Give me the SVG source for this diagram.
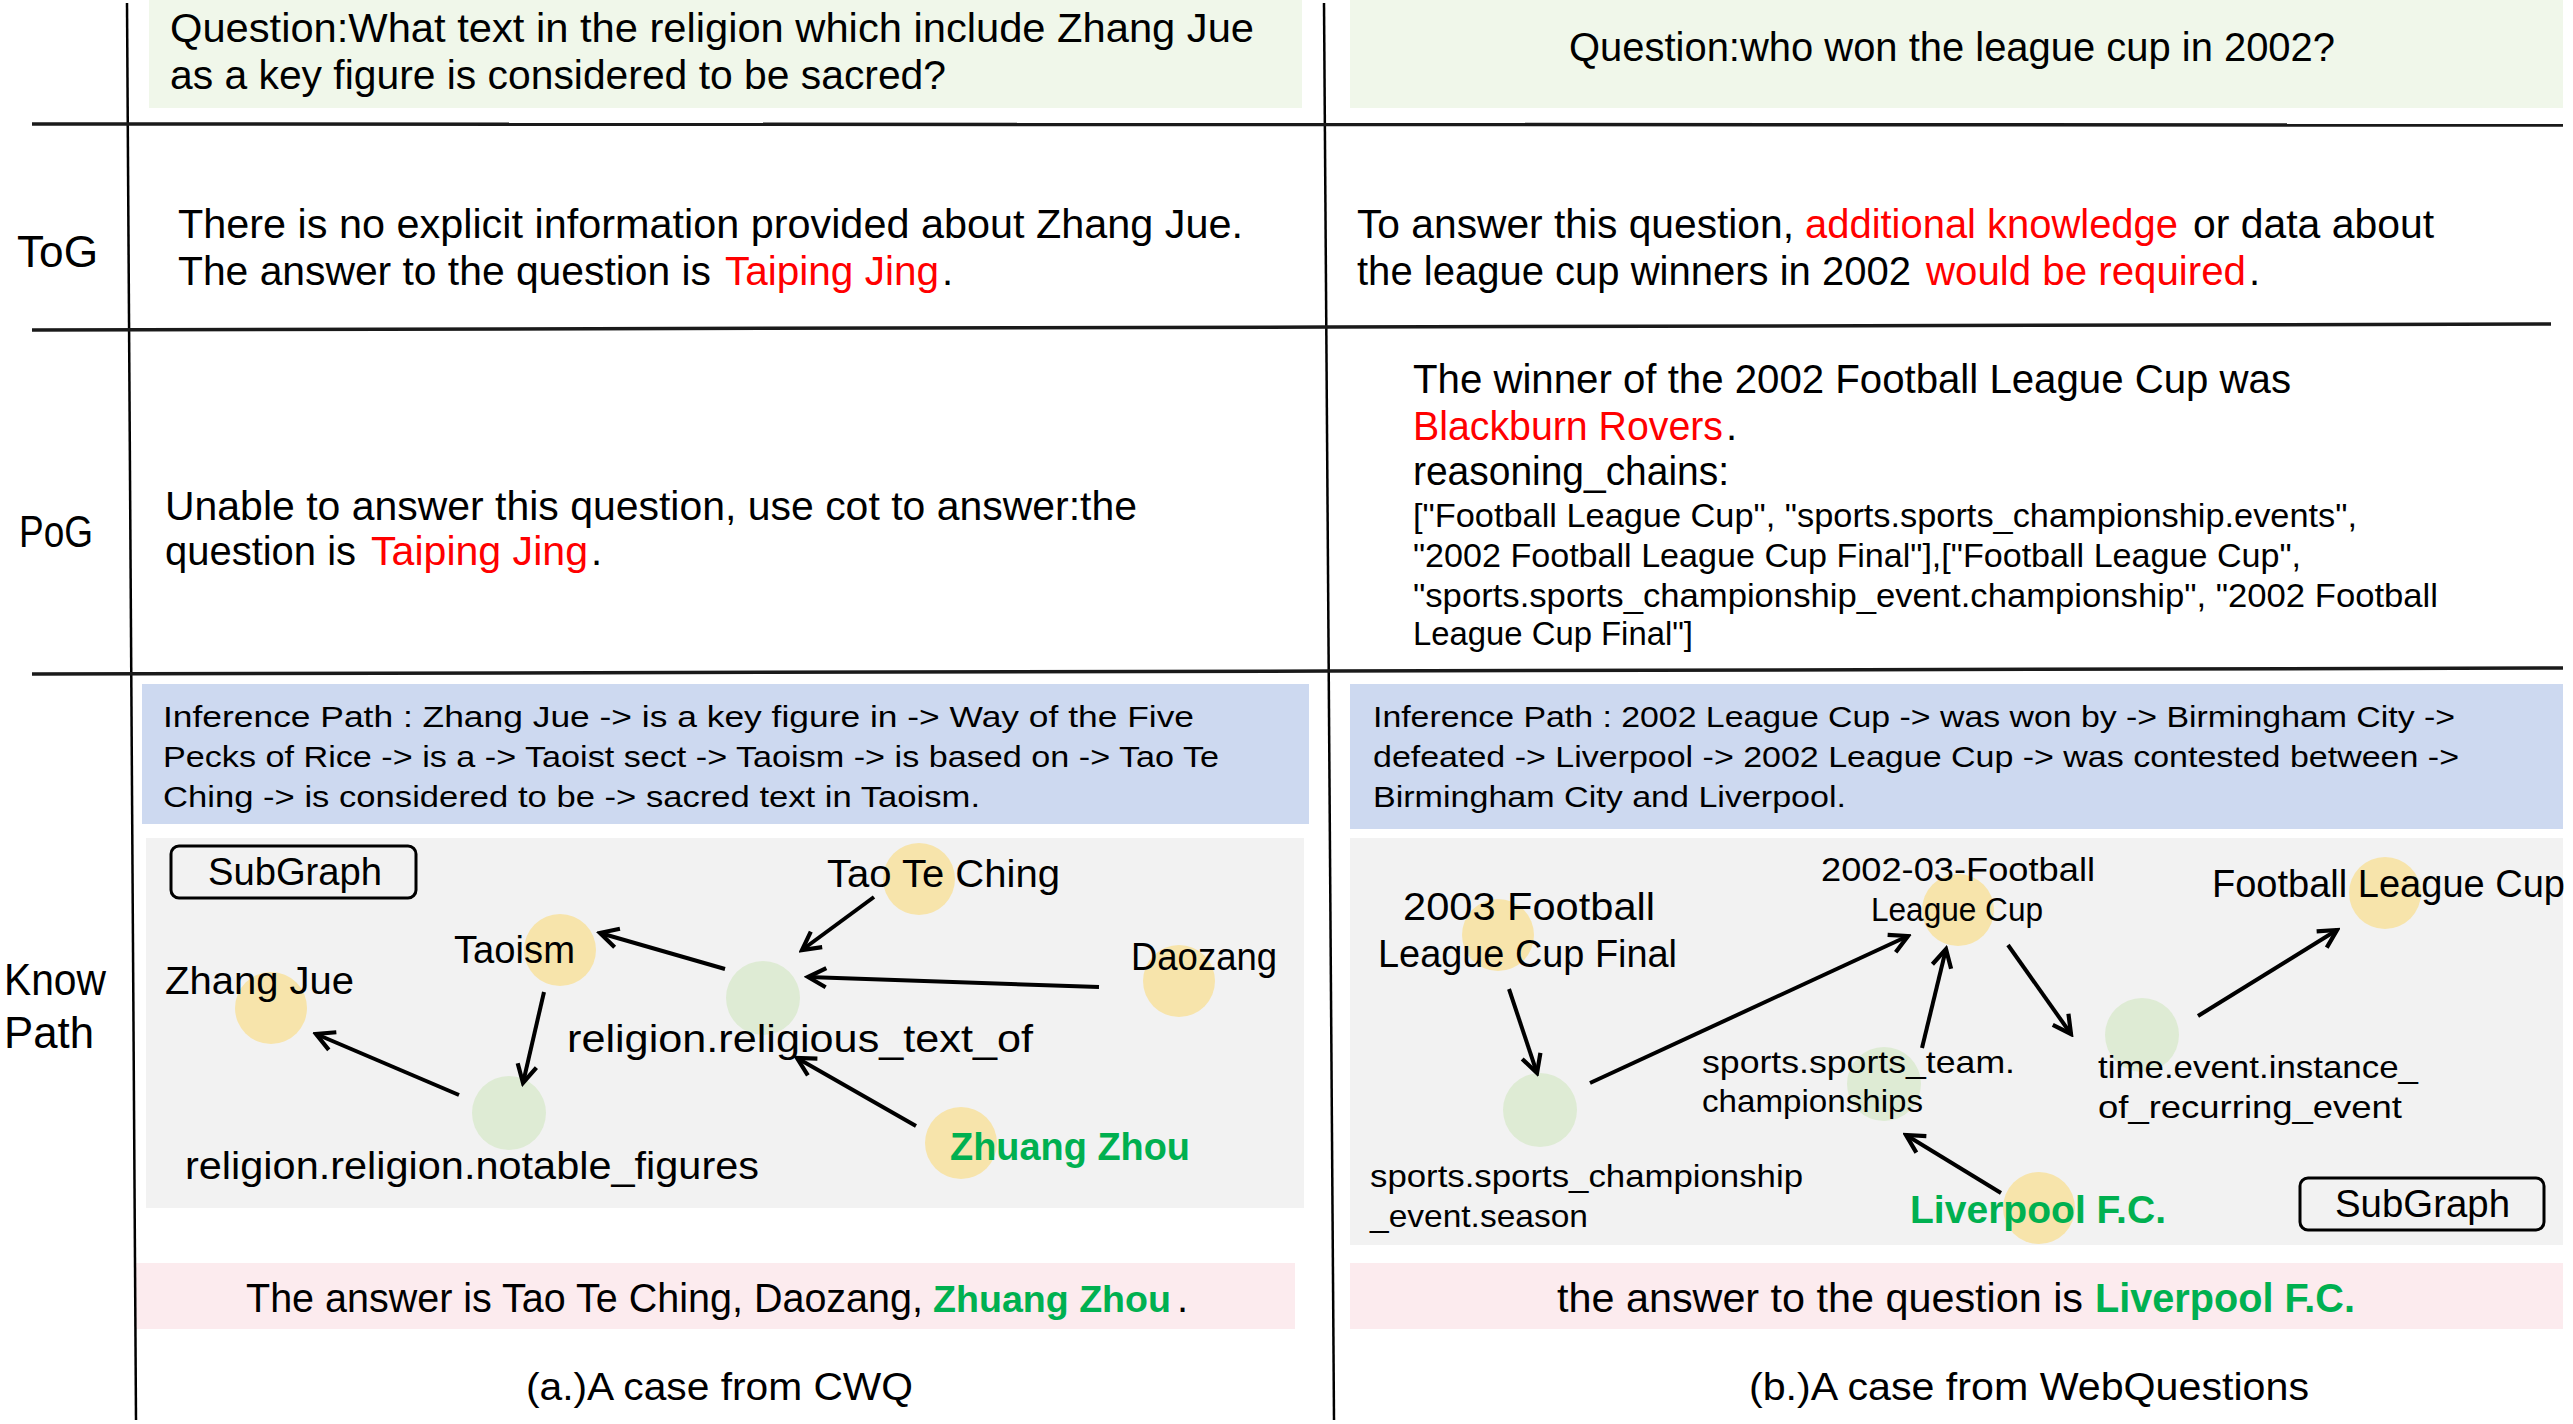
<svg xmlns="http://www.w3.org/2000/svg" width="2573" height="1424" viewBox="0 0 2573 1424">
<style>
text{font-family:"Liberation Sans",Arial,sans-serif;fill:#000}
.t40{font-size:40px}
.t34{font-size:34px}
.t32{font-size:32px}
.t31{font-size:30px}
.t38{font-size:38px}
.t44{font-size:44px}
.red{fill:#FF0000}
.grn{fill:#00B050;font-weight:bold}
.sep{stroke:#1a1a1a;stroke-width:3.5;fill:none}
.vl{stroke:#000;stroke-width:2.5;fill:none}
.ent{fill:#F7E4AB}
.rel{fill:#DEEBD4}
.arr{stroke:#000;stroke-width:4;fill:none;marker-end:url(#ah)}
.btn{fill:none;stroke:#000;stroke-width:3}
</style>
<defs>
<marker id="ah" viewBox="0 0 20 20" refX="17" refY="10" markerWidth="24" markerHeight="24" markerUnits="userSpaceOnUse" orient="auto">
<path d="M2,2 L17,10 L2,18" fill="none" stroke="#000" stroke-width="3.5"/>
</marker>
</defs>
<rect x="0" y="0" width="2573" height="1424" fill="#fff"/>

<!-- backgrounds -->
<rect x="149" y="0" width="1153" height="108" fill="#F0F7EA"/>
<rect x="1350" y="0" width="1213" height="108" fill="#F0F7EA"/>
<rect x="142" y="684" width="1167" height="140" fill="#CDD9F0"/>
<rect x="1350" y="684" width="1213" height="145" fill="#CDD9F0"/>
<rect x="146" y="838" width="1158" height="370" fill="#F2F2F2"/>
<rect x="1350" y="838" width="1213" height="407" fill="#F2F2F2"/>
<rect x="136" y="1263" width="1159" height="66" fill="#FCEBEE"/>
<rect x="1350" y="1263" width="1213" height="66" fill="#FCEBEE"/>

<!-- table lines -->
<g id="grid">
<line class="vl" x1="127" y1="3" x2="136" y2="1420"/>
<line class="vl" x1="1324" y1="3" x2="1334" y2="1420"/>
<line class="sep" x1="32" y1="124" x2="2563" y2="125"/>
<line class="sep" x1="32" y1="330" x2="1330" y2="327"/>
<line class="sep" x1="1330" y1="327" x2="2551" y2="324"/>
<line class="sep" x1="32" y1="674" x2="1330" y2="671"/>
<line class="sep" x1="1330" y1="671" x2="2563" y2="668"/>
</g>

<!-- row labels -->
<text class="t44" x="17" y="267" textLength="81" lengthAdjust="spacingAndGlyphs">ToG</text>
<text class="t44" x="19" y="547" textLength="74" lengthAdjust="spacingAndGlyphs">PoG</text>
<text class="t44" x="4" y="995" textLength="102" lengthAdjust="spacingAndGlyphs">Know</text>
<text class="t44" x="4" y="1048" textLength="90" lengthAdjust="spacingAndGlyphs">Path</text>

<!-- questions -->
<text class="t40" x="170" y="42" textLength="1084" lengthAdjust="spacingAndGlyphs">Question:What text in the religion which include Zhang Jue</text>
<text class="t40" x="170" y="89" textLength="776" lengthAdjust="spacingAndGlyphs">as a key figure is considered to be sacred?</text>
<text class="t40" x="1569" y="61" textLength="766" lengthAdjust="spacingAndGlyphs">Question:who won the league cup in 2002?</text>

<!-- ToG -->
<text class="t40" x="178" y="238" textLength="1065" lengthAdjust="spacingAndGlyphs">There is no explicit information provided about Zhang Jue.</text>
<text class="t40" x="178" y="285" textLength="533" lengthAdjust="spacingAndGlyphs">The answer to the question is</text>
<text class="t40 red" x="725" y="285" textLength="214" lengthAdjust="spacingAndGlyphs">Taiping Jing</text>
<text class="t40" x="942" y="285">.</text>

<text class="t40" x="1357" y="238" textLength="437" lengthAdjust="spacingAndGlyphs">To answer this question,</text>
<text class="t40 red" x="1805" y="238" textLength="373" lengthAdjust="spacingAndGlyphs">additional knowledge</text>
<text class="t40" x="2193" y="238" textLength="241" lengthAdjust="spacingAndGlyphs">or data about</text>
<text class="t40" x="1357" y="285" textLength="554" lengthAdjust="spacingAndGlyphs">the league cup winners in 2002</text>
<text class="t40 red" x="1926" y="285" textLength="320" lengthAdjust="spacingAndGlyphs">would be required</text>
<text class="t40" x="2249" y="285">.</text>

<!-- PoG -->
<text class="t40" x="165" y="520" textLength="972" lengthAdjust="spacingAndGlyphs">Unable to answer this question, use cot to answer:the</text>
<text class="t40" x="165" y="565" textLength="191" lengthAdjust="spacingAndGlyphs">question is</text>
<text class="t40 red" x="371" y="565" textLength="217" lengthAdjust="spacingAndGlyphs">Taiping Jing</text>
<text class="t40" x="591" y="565">.</text>

<text class="t40" x="1413" y="393" textLength="878" lengthAdjust="spacingAndGlyphs">The winner of the 2002 Football League Cup was</text>
<text class="t40 red" x="1413" y="440" textLength="310" lengthAdjust="spacingAndGlyphs">Blackburn Rovers</text>
<text class="t40" x="1726" y="440">.</text>
<text class="t40" x="1413" y="485" textLength="316" lengthAdjust="spacingAndGlyphs">reasoning_chains:</text>
<text class="t34" x="1413" y="527" textLength="944" lengthAdjust="spacingAndGlyphs">["Football League Cup", "sports.sports_championship.events",</text>
<text class="t34" x="1413" y="567" textLength="888" lengthAdjust="spacingAndGlyphs">"2002 Football League Cup Final"],["Football League Cup",</text>
<text class="t34" x="1413" y="607" textLength="1025" lengthAdjust="spacingAndGlyphs">"sports.sports_championship_event.championship", "2002 Football</text>
<text class="t34" x="1413" y="645" textLength="280" lengthAdjust="spacingAndGlyphs">League Cup Final"]</text>

<!-- inference paths -->
<text class="t31" x="163" y="727" textLength="1031" lengthAdjust="spacingAndGlyphs">Inference Path : Zhang Jue -&gt; is a key figure in -&gt; Way of the Five</text>
<text class="t31" x="163" y="767" textLength="1056" lengthAdjust="spacingAndGlyphs">Pecks of Rice -&gt; is a -&gt; Taoist sect -&gt; Taoism -&gt; is based on -&gt; Tao Te</text>
<text class="t31" x="163" y="807" textLength="817" lengthAdjust="spacingAndGlyphs">Ching -&gt; is considered to be -&gt; sacred text in Taoism.</text>
<text class="t31" x="1373" y="727" textLength="1082" lengthAdjust="spacingAndGlyphs">Inference Path : 2002 League Cup -&gt; was won by -&gt; Birmingham City -&gt;</text>
<text class="t31" x="1373" y="767" textLength="1086" lengthAdjust="spacingAndGlyphs">defeated -&gt; Liverpool -&gt; 2002 League Cup -&gt; was contested between -&gt;</text>
<text class="t31" x="1373" y="807" textLength="473" lengthAdjust="spacingAndGlyphs">Birmingham City and Liverpool.</text>

<!-- subgraph buttons -->
<g id="subgraph-a">
<rect class="btn" x="171" y="846" width="245" height="52" rx="8"/>
<text class="t38" x="208" y="885" textLength="174" lengthAdjust="spacingAndGlyphs">SubGraph</text>
</g>
<g id="subgraph-b">
<rect class="btn" x="2300" y="1178" width="244" height="52" rx="8"/>
<text class="t38" x="2335" y="1217" textLength="175" lengthAdjust="spacingAndGlyphs">SubGraph</text>
</g>

<!-- left graph nodes -->
<g id="n-taoteching"><circle class="ent" cx="919" cy="879" r="36"/><text class="t38" x="827" y="887" textLength="233" lengthAdjust="spacingAndGlyphs">Tao Te Ching</text></g>
<g id="n-taoism"><circle class="ent" cx="560" cy="950" r="36"/><text class="t38" x="454" y="963" textLength="121" lengthAdjust="spacingAndGlyphs">Taoism</text></g>
<g id="n-zhangjue"><circle class="ent" cx="271" cy="1008" r="36"/><text class="t38" x="165" y="994" textLength="189" lengthAdjust="spacingAndGlyphs">Zhang Jue</text></g>
<g id="n-religious-text"><circle class="rel" cx="763" cy="998" r="37"/><text class="t38" x="567" y="1052" textLength="466" lengthAdjust="spacingAndGlyphs">religion.religious_text_of</text></g>
<g id="n-daozang"><circle class="ent" cx="1179" cy="981" r="36"/><text class="t38" x="1131" y="970" textLength="146" lengthAdjust="spacingAndGlyphs">Daozang</text></g>
<g id="n-notable"><circle class="rel" cx="509" cy="1113" r="37"/><text class="t38" x="185" y="1179" textLength="574" lengthAdjust="spacingAndGlyphs">religion.religion.notable_figures</text></g>
<g id="n-zhuangzhou"><circle class="ent" cx="961" cy="1143" r="36"/><text class="t38 grn" x="950" y="1160" textLength="240" lengthAdjust="spacingAndGlyphs">Zhuang Zhou</text></g>

<!-- right graph nodes -->
<g id="n-2003final"><circle class="ent" cx="1498" cy="935" r="36"/>
<text class="t38" x="1403" y="920" textLength="252" lengthAdjust="spacingAndGlyphs">2003 Football</text>
<text class="t38" x="1378" y="967" textLength="299" lengthAdjust="spacingAndGlyphs">League Cup Final</text></g>
<g id="n-200203"><circle class="ent" cx="1958" cy="910" r="36"/>
<text class="t34" x="1821" y="881" textLength="274" lengthAdjust="spacingAndGlyphs">2002-03-Football</text>
<text class="t34" x="1871" y="921" textLength="172" lengthAdjust="spacingAndGlyphs">League Cup</text></g>
<g id="n-flc"><circle class="ent" cx="2385" cy="893" r="36"/>
<text class="t38" x="2212" y="897" textLength="353" lengthAdjust="spacingAndGlyphs">Football League Cup</text></g>
<g id="n-season"><circle class="rel" cx="1540" cy="1110" r="37"/>
<text class="t32" x="1370" y="1187" textLength="433" lengthAdjust="spacingAndGlyphs">sports.sports_championship</text>
<text class="t32" x="1370" y="1227" textLength="218" lengthAdjust="spacingAndGlyphs">_event.season</text></g>
<g id="n-teamchamp"><circle class="rel" cx="1884" cy="1084" r="37"/>
<text class="t32" x="1702" y="1073" textLength="313" lengthAdjust="spacingAndGlyphs">sports.sports_team.</text>
<text class="t32" x="1702" y="1112" textLength="221" lengthAdjust="spacingAndGlyphs">championships</text></g>
<g id="n-timeevent"><circle class="rel" cx="2142" cy="1035" r="37"/>
<text class="t32" x="2098" y="1078" textLength="320" lengthAdjust="spacingAndGlyphs">time.event.instance_</text>
<text class="t32" x="2098" y="1118" textLength="304" lengthAdjust="spacingAndGlyphs">of_recurring_event</text></g>
<g id="n-liverpool"><circle class="ent" cx="2039" cy="1208" r="36"/>
<text class="t38 grn" x="1910" y="1223" textLength="256" lengthAdjust="spacingAndGlyphs">Liverpool F.C.</text></g>

<!-- connectors -->
<g id="connectors">
<line class="arr" x1="874" y1="897" x2="802" y2="950"/>
<line class="arr" x1="725" y1="969" x2="600" y2="933"/>
<line class="arr" x1="1099" y1="987" x2="808" y2="977"/>
<line class="arr" x1="544" y1="992" x2="523" y2="1083"/>
<line class="arr" x1="459" y1="1095" x2="316" y2="1034"/>
<line class="arr" x1="916" y1="1126" x2="797" y2="1058"/>
<line class="arr" x1="1509" y1="989" x2="1537" y2="1073"/>
<line class="arr" x1="1590" y1="1083" x2="1908" y2="936"/>
<line class="arr" x1="1922" y1="1048" x2="1946" y2="949"/>
<line class="arr" x1="2008" y1="945" x2="2071" y2="1034"/>
<line class="arr" x1="2198" y1="1016" x2="2337" y2="930"/>
<line class="arr" x1="2001" y1="1193" x2="1906" y2="1135"/>
</g>

<!-- answers -->
<text class="t40" x="246" y="1312" textLength="677" lengthAdjust="spacingAndGlyphs">The answer is Tao Te Ching, Daozang,</text>
<text class="grn" style="font-size:37px" x="933" y="1312" textLength="238" lengthAdjust="spacingAndGlyphs">Zhuang Zhou</text>
<text class="t40" x="1177" y="1312">.</text>
<text class="t40" x="1557" y="1312" textLength="526" lengthAdjust="spacingAndGlyphs">the answer to the question is</text>
<text class="t40 grn" x="2095" y="1312" textLength="260" lengthAdjust="spacingAndGlyphs">Liverpool F.C.</text>

<!-- captions -->
<text class="t38" x="526" y="1400" textLength="387" lengthAdjust="spacingAndGlyphs">(a.)A case from CWQ</text>
<text class="t38" x="1749" y="1400" textLength="560" lengthAdjust="spacingAndGlyphs">(b.)A case from WebQuestions</text>
</svg>
